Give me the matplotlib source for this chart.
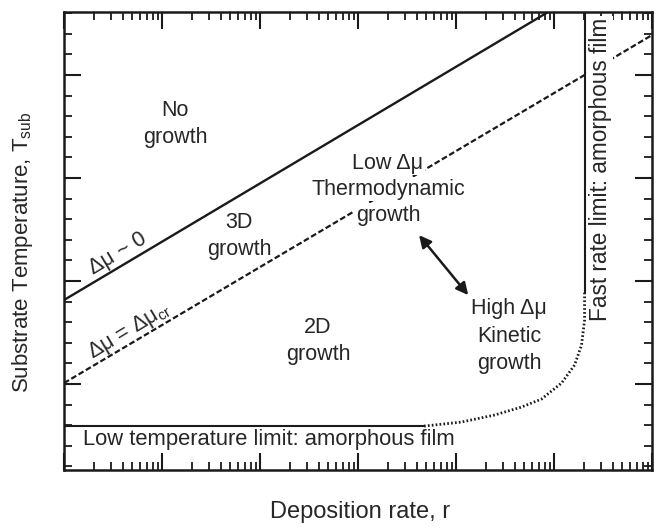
import matplotlib.pyplot as plt
import numpy as np

plt.rcParams['font.family'] = ['Liberation Sans', 'DejaVu Sans']
plt.rcParams['mathtext.fontset'] = 'custom'
plt.rcParams['mathtext.rm'] = 'Liberation Sans'

# boundary lines, log10(deposition rate) vs substrate temperature
mu0_logr = [0.0, 5.0]
mu0_T = [9.08, 23.23]
mucr_logr = [0.0, 6.0]
mucr_T = [5.05, 21.94]

# low temperature limit (solid part) and dotted transition to fast-rate limit
lowT_logr = [0.0, 3.674]
lowT_T = [2.96, 2.96]
curve_logr = [3.674, 4.053, 4.391, 4.667, 4.872, 5.077, 5.210, 5.281, 5.312, 5.312]
curve_T = [2.961, 3.155, 3.495, 3.883, 4.272, 5.049, 5.922, 6.893, 8.107, 9.466]
fast_logr = [5.312, 5.312]
fast_T = [9.466, 23.5]

# double arrow between regimes
arrow_logr = [3.623, 4.125]
arrow_T = [12.23, 9.32]

fig = plt.figure(figsize=(6.59, 5.28), dpi=100)
ax = fig.add_axes([64 / 659, 1 - 470 / 528, (652 - 64) / 659, (470 - 12) / 528])

ink = "#1a1a1a"
ax.plot(10 ** np.array(mu0_logr), mu0_T, color=ink, lw=1.7, zorder=7)
ax.plot(10 ** np.array(mucr_logr), mucr_T, color=ink, lw=1.6, ls=(0, (2.6, 1.2)))
ax.plot(10 ** np.array(lowT_logr), lowT_T, color=ink, lw=1.5)
ax.plot(10 ** np.array(curve_logr), curve_T, color=ink, lw=2.0, ls=(0, (0.6, 0.8)))
ax.plot(10 ** np.array(fast_logr), fast_T, color=ink, lw=1.5, zorder=7)

ax.annotate("", xy=(10 ** arrow_logr[0], arrow_T[0]), xytext=(10 ** arrow_logr[1], arrow_T[1]),
            arrowprops=dict(arrowstyle="<|-|>", color=ink, lw=1.8,
                            mutation_scale=18, shrinkA=0, shrinkB=0))

ax.set_xscale("log")
ax.set_xlim(1, 1e6)
ax.set_ylim(0.83, 23.06)
ax.set_yticks([5, 10, 15, 20])
ax.set_yticks(np.arange(1, 24), minor=True)
ax.tick_params(which="both", direction="in", top=True, right=True,
               labelbottom=False, labelleft=False, color=ink)
ax.tick_params(which="major", length=12, width=1.5)
ax.tick_params(which="minor", length=6, width=1.3)
for s in ax.spines.values():
    s.set_linewidth(1.8)
    s.set_color(ink)

tc = "#262626"
fs = 15.5
kw = dict(transform=ax.transData, ha="center", va="center", color=tc, fontsize=fs,
          linespacing=1.42)
white = dict(facecolor="white", edgecolor="none", pad=1)

def px(x, y):
    # pixel position (in figure) -> data
    return ax.transData.inverted().transform(fig.transFigure.transform((x / 659, 1 - y / 528)))

ax.text(*px(175, 124), "No\ngrowth", **kw)
ax.text(*px(239, 236), "3D\ngrowth", **kw)
ax.text(*px(318, 341), "2D\ngrowth", **kw)
# thermodynamic block, each line on white so the dashed line is hidden behind it
for txt, yy in [("Low Δμ", 163), ("Thermodynamic", 189), ("growth", 215)]:
    ax.text(*px(388, yy), txt, bbox=white, zorder=5, **kw)
ax.text(*px(509, 336), "High Δμ\nKinetic\ngrowth", **kw)
ax.text(*px(118, 254), "Δμ ~ 0", rotation=31, **kw)
ax.text(*px(129, 331), "Δμ = Δμ$_{\\rm cr}$", rotation=31, **kw)
ax.text(*px(83, 440), "Low temperature limit: amorphous film", transform=ax.transData,
        ha="left", va="center", color=tc, fontsize=15.8)
ax.text(*px(600, 169), "Fast rate limit: amorphous film", transform=ax.transData,
        ha="center", va="center", rotation=90, color=tc, fontsize=16.3,
        bbox=white, zorder=5)

fig.text(360 / 659, 1 - 512 / 528, "Deposition rate, r", ha="center", va="center",
         fontsize=17, color=tc)
fig.text(23 / 659, 1 - 393 / 528, "Substrate Temperature, T$_{\\rm sub}$", ha="center",
         va="bottom", rotation=90, fontsize=16, color=tc)

fig.savefig("out.png", dpi=100)
